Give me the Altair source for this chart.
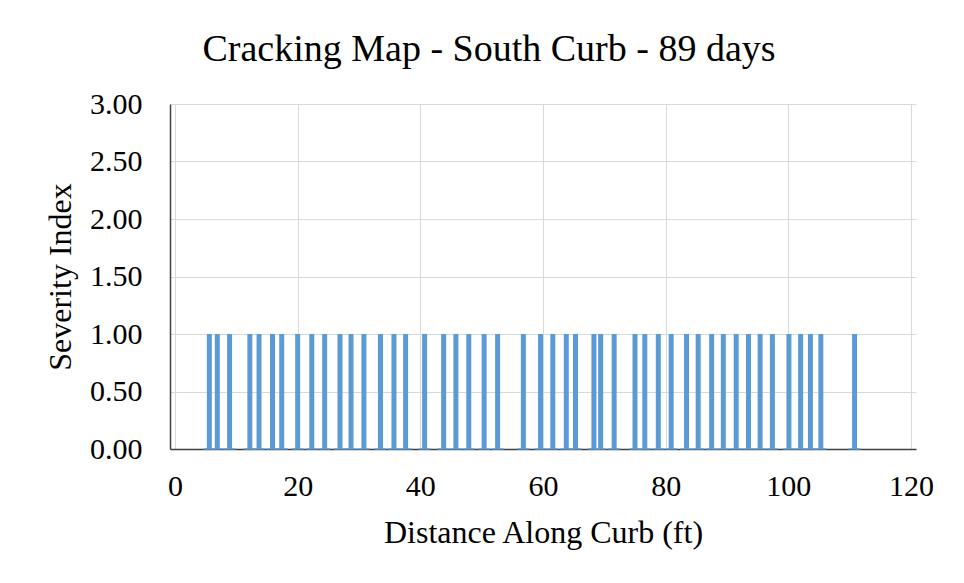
import altair as alt
import pandas as pd

# Crack positions along curb (ft)
distance_ft = [5.6, 6.9, 8.9, 12.2, 13.7, 15.9, 17.4, 20.0, 22.3, 24.4, 26.9, 28.7,
               30.8, 33.5, 35.7, 37.6, 40.7, 43.8, 45.8, 47.9, 50.4, 52.6, 56.8, 59.6,
               61.6, 63.8, 65.3, 68.3, 69.4, 71.6, 75.0, 76.6, 78.8, 80.9, 83.4, 85.3,
               87.5, 89.4, 91.5, 93.5, 95.4, 97.4, 100.1, 102.0, 103.6, 105.3, 110.8]
severity = [1.0] * len(distance_ft)

x_ticks = [0, 20, 40, 60, 80, 100, 120]
y_ticks = [0.0, 0.5, 1.0, 1.5, 2.0, 2.5, 3.0]

df = pd.DataFrame({"distance": distance_ft, "severity": severity})

FONT = "Liberation Serif"
BLUE = "#5b9bd5"

x_enc = alt.X("distance:Q",
              scale=alt.Scale(domain=[0, 120], nice=False),
              axis=alt.Axis(values=x_ticks, title="Distance Along Curb (ft)",
                            grid=True, gridColor="#d9d9d9", ticks=False,
                            domainColor="#404040", domainWidth=1.5,
                            labelPadding=22, titlePadding=16))
y_enc = alt.Y("severity:Q",
              scale=alt.Scale(domain=[0, 3], nice=False),
              axis=alt.Axis(values=y_ticks, format=".2f", title="Severity Index",
                            grid=True, gridColor="#d9d9d9", ticks=False,
                            domainColor="#404040", domainWidth=1.5,
                            labelPadding=28, titlePadding=12))

bars = alt.Chart(df).mark_bar(size=5, color=BLUE).encode(x=x_enc, y=y_enc)
base = alt.Chart(df).mark_tick(orient="horizontal", size=12, thickness=2, color=BLUE).encode(
    x="distance:Q", y=alt.datum(0))

chart = alt.layer(bars, base).properties(
    width=746, height=345,
    background="white",
    title=alt.TitleParams("Cracking Map - South Curb - 89 days", font=FONT, fontSize=38,
                          fontWeight="normal", color="black", anchor="middle",
                          frame="bounds", offset=20),
    padding={"left": 36, "top": 23, "right": 4, "bottom": 2},
).configure_axis(
    labelFont=FONT, titleFont=FONT, labelFontSize=30, titleFontSize=32,
    labelColor="black", titleColor="black", titleFontWeight="normal",
).configure_view(stroke=None)

chart.save("out.html", embed_options={"renderer": "svg", "actions": False})
